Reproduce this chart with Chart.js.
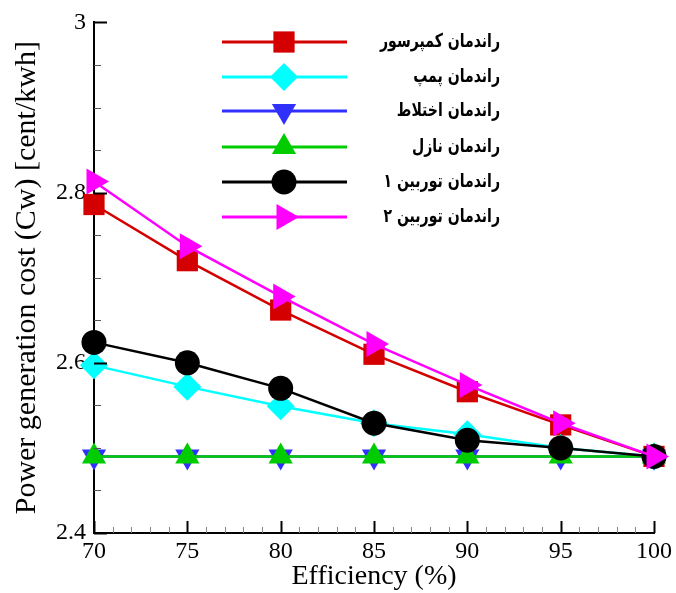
<!DOCTYPE html>
<html><head><meta charset="utf-8">
<script src="https://cdn.jsdelivr.net/npm/chart.js@4/dist/chart.umd.min.js"></script>
<style>html,body{margin:0;padding:0;background:#fff;}#wrap{width:676px;height:593px;}</style>
</head><body><div id="wrap"><canvas id="c" width="676" height="593"></canvas></div>
<script>
const efficiency = [70, 75, 80, 85, 90, 95, 100];
const compressor = [2.786, 2.720, 2.662, 2.610, 2.566, 2.527, 2.49];
const pump       = [2.597, 2.572, 2.549, 2.529, 2.516, 2.500, 2.49];
const mixing     = [2.49, 2.49, 2.49, 2.49, 2.49, 2.49, 2.49];
const nozzle     = [2.49, 2.49, 2.49, 2.49, 2.49, 2.49, 2.49];
const turbine1   = [2.624, 2.600, 2.570, 2.529, 2.509, 2.500, 2.49];
const turbine2   = [2.813, 2.737, 2.678, 2.622, 2.574, 2.529, 2.49];
const seriesNames = ['راندمان کمپرسور','راندمان پمپ','راندمان اختلاط','راندمان نازل','راندمان توربین ۱','راندمان توربین ۲'];
const xTitle = 'Efficiency (%)';
const yTitle = 'Power generation cost (Cw) [cent/kwh]';

const styles = [
  {color:'#d40000', pointStyle:'rect', radius:15, rotation:0},
  {color:'#00ffff', pointStyle:'rectRot', radius:14, rotation:0},
  {color:'#3030ff', pointStyle:'triangle', radius:14, rotation:180},
  {color:'#00cc00', pointStyle:'triangle', radius:14, rotation:0},
  {color:'#000000', pointStyle:'circle', radius:12.5, rotation:0},
  {color:'#ff00ff', pointStyle:'triangle', radius:15, rotation:90},
];
const allSeries = [compressor, pump, mixing, nozzle, turbine1, turbine2];
const datasets = allSeries.map((vals, i) => ({
  label: seriesNames[i],
  data: efficiency.map((x, j) => ({x: x, y: vals[j]})),
  borderColor: styles[i].color,
  backgroundColor: styles[i].color,
  borderWidth: 2.5,
  pointStyle: styles[i].pointStyle,
  pointRadius: styles[i].radius,
  pointHoverRadius: styles[i].radius,
  pointRotation: styles[i].rotation,
  pointBorderWidth: 0,
  pointBackgroundColor: styles[i].color,
  clip: false,
  order: 5 - i,
}));

const tickPlugin = {
  id: 'ticks',
  afterDatasetsDraw(chart) {
    const ctx = chart.ctx, xs = chart.scales.x, ys = chart.scales.y;
    const ca = chart.chartArea;
    ctx.save();
    for (let k = 0; k <= 12; k++) {
      const v = 2.4 + k * 0.05;
      const major = k % 4 === 0;
      const p = Math.round(ys.getPixelForValue(v)) + 0.5;
      ctx.lineWidth = major ? 2 : 1;
      ctx.strokeStyle = major ? '#000' : '#555';
      ctx.beginPath(); ctx.moveTo(ca.left, p); ctx.lineTo(ca.left + (major ? 13 : 7), p); ctx.stroke();
    }
    for (let v = 70; v <= 100; v++) {
      const major = v % 5 === 0;
      const p = Math.round(xs.getPixelForValue(v)) + 0.5;
      ctx.lineWidth = major ? 2 : 1;
      ctx.strokeStyle = major ? '#000' : '#888';
      ctx.beginPath(); ctx.moveTo(p, ca.bottom); ctx.lineTo(p, ca.bottom - (major ? 12 : 6)); ctx.stroke();
    }
    ctx.restore();
  }
};

const legendPlugin = {
  id: 'customLegend',
  afterDraw(chart) {
    const ctx = chart.ctx;
    const rows = [42, 77, 111, 147, 182, 217];
    chart.data.datasets.forEach((ds, i) => {
      const y = rows[i];
      ctx.save();
      ctx.strokeStyle = ds.borderColor; ctx.lineWidth = 3;
      ctx.beginPath(); ctx.moveTo(222, y); ctx.lineTo(347, y); ctx.stroke();
      ctx.fillStyle = ds.backgroundColor;
      Chart.helpers.drawPoint(ctx, {pointStyle: ds.pointStyle, radius: ds.pointRadius, rotation: ds.pointRotation, borderWidth: 0}, 284, y);
      ctx.restore();
      ctx.save();
      ctx.translate(500, y);
      ctx.scale(0.74, 1);
      ctx.fillStyle = '#000';
      ctx.font = 'bold 19px "DejaVu Sans"';
      ctx.direction = 'rtl';
      ctx.textAlign = 'right';
      ctx.textBaseline = 'middle';
      ctx.fillText(ds.label, 0, 0);
      ctx.restore();
    });
  }
};

new Chart(document.getElementById('c'), {
  type: 'line',
  data: { datasets },
  options: {
    responsive: false,
    animation: false,
    events: [],
    layout: { padding: { left: 0, top: 20, right: 21, bottom: 0 } },
    plugins: { legend: { display: false }, tooltip: { enabled: false } },
    scales: {
      x: {
        type: 'linear', min: 70, max: 100,
        grid: { display: false, drawTicks: false },
        border: { display: true, color: '#000', width: 2 },
        ticks: { stepSize: 5, padding: 4, color: '#000', font: { family: '"Liberation Serif"', size: 24 } },
        title: { display: true, text: xTitle, color: '#000', font: { family: '"Liberation Serif"', size: 28 }, padding: { top: 0, bottom: 0 } },
        afterFit(s) { s.height = 60; }
      },
      y: {
        type: 'linear', min: 2.4, max: 3,
        grid: { display: false, drawTicks: false },
        border: { display: true, color: '#000', width: 2 },
        ticks: { stepSize: 0.2, padding: 8, color: '#000', font: { family: '"Liberation Serif"', size: 24 },
          callback: v => String(Math.round(v * 10) / 10) },
        title: { display: true, text: yTitle, color: '#000', font: { family: '"Liberation Serif"', size: 30 }, padding: { top: 9, bottom: 0 } },
        afterFit(s) { s.width = 94; }
      }
    }
  },
  plugins: [tickPlugin, legendPlugin]
});
</script></body></html>
